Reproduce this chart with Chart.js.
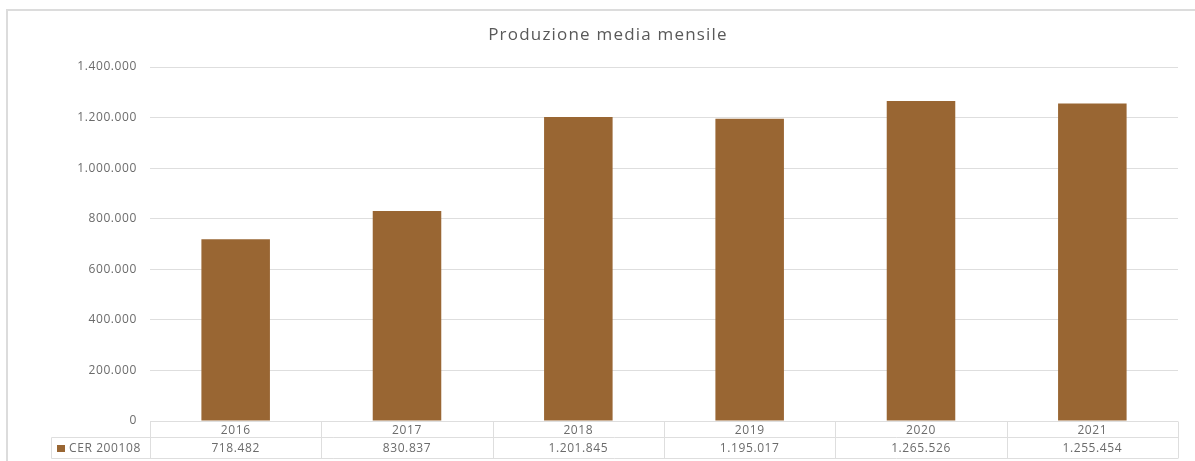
<!DOCTYPE html>
<html>
<head>
<meta charset="utf-8">
<script src="https://cdn.jsdelivr.net/npm/chart.js@4"></script>
<style>
  html, body { margin: 0; padding: 0; background: #fff; overflow: hidden; }
  #frame { position: absolute; left: 6px; top: 9px; width: 1400px; height: 600px; border: 2px solid #dcdcdc; }
  #wrap { position: absolute; left: 0; top: 0; width: 1195px; height: 461px; }
</style>
</head>
<body>
<div id="frame"></div>
<div id="wrap"><canvas id="chart"></canvas></div>
<script>
const years = ["2016", "2017", "2018", "2019", "2020", "2021"];
const produzione = [718482, 830837, 1201845, 1195017, 1265526, 1255454];
const seriesName = "CER 200108";
const chartTitle = "Produzione media mensile";

const barColor = "#996633";
const textColor = "#6b6b6b";
const lineColor = "#dedede";

function fmt(n) {
  return String(n).replace(/\B(?=(\d{3})+(?!\d))/g, ".");
}

// the original text is a bit wider, spread letters slightly
const spacing = {
  id: "spacing",
  beforeDraw(chart) {
    chart.ctx.letterSpacing = "0.6px";
  }
};

// title is centred on the whole frame, which runs past the right edge
const frameTitle = {
  id: "frameTitle",
  afterDraw(chart) {
    const ctx = chart.ctx;
    ctx.save();
    ctx.letterSpacing = "1.2px";
    ctx.fillStyle = "#595959";
    ctx.font = "17px 'Open Sans'";
    ctx.textAlign = "center";
    ctx.textBaseline = "middle";
    ctx.fillText(chartTitle, 608, 35);
    ctx.restore();
  }
};

// data table drawn under the plot, columns follow the x scale
const dataTable = {
  id: "dataTable",
  afterDraw(chart) {
    const ctx = chart.ctx;
    const area = chart.chartArea;
    const x = chart.scales.x;
    const top = area.bottom + 0.5;
    const mid = top + 16;
    const bottom = top + 37;
    const headLeft = 51.5;
    const colW = (area.right - area.left) / years.length;

    ctx.save();
    ctx.strokeStyle = lineColor;
    ctx.lineWidth = 1;
    ctx.beginPath();
    ctx.moveTo(area.left, top); ctx.lineTo(area.right, top);
    ctx.moveTo(headLeft, mid); ctx.lineTo(area.right, mid);
    ctx.moveTo(headLeft, bottom); ctx.lineTo(area.right, bottom);
    ctx.moveTo(headLeft, mid); ctx.lineTo(headLeft, bottom);
    for (let i = 0; i <= years.length; i++) {
      const cx = Math.round(area.left + i * colW) + 0.5;
      ctx.moveTo(cx, top); ctx.lineTo(cx, bottom);
    }
    ctx.stroke();

    ctx.fillStyle = textColor;
    ctx.font = "12px 'Open Sans'";
    ctx.textAlign = "center";
    ctx.textBaseline = "middle";
    years.forEach((y, i) => {
      const cx = x.getPixelForValue(i);
      ctx.fillText(y, cx, (top + mid) / 2 + 1);
      ctx.fillText(fmt(produzione[i]), cx, (mid + bottom) / 2 + 1);
    });

    // legend key in the row header
    ctx.fillStyle = barColor;
    ctx.fillRect(57, (mid + bottom) / 2 - 3, 8, 7);
    ctx.fillStyle = textColor;
    ctx.textAlign = "left";
    ctx.fillText(seriesName, 69, (mid + bottom) / 2 + 1);
    ctx.restore();
  }
};

new Chart(document.getElementById("chart"), {
  type: "bar",
  data: {
    labels: years,
    datasets: [{
      label: seriesName,
      data: produzione,
      backgroundColor: barColor,
      barPercentage: 0.4,
      categoryPercentage: 1
    }]
  },
  options: {
    responsive: true,
    maintainAspectRatio: false,
    animation: false,
    layout: { padding: { left: 0, right: 17, top: 67, bottom: 40 } },
    plugins: {
      legend: { display: false },
      tooltip: { enabled: false },
      title: { display: false }
    },
    scales: {
      x: { display: false },
      y: {
        min: 0,
        max: 1400000,
        afterFit(scale) { scale.width = 150; },
        border: { display: false },
        grid: { color: lineColor, drawTicks: false },
        ticks: {
          stepSize: 200000,
          padding: 13,
          color: textColor,
          font: { family: "'Open Sans'", size: 12 },
          callback: v => fmt(v)
        }
      }
    }
  },
  plugins: [spacing, frameTitle, dataTable]
});
</script>
</body>
</html>
